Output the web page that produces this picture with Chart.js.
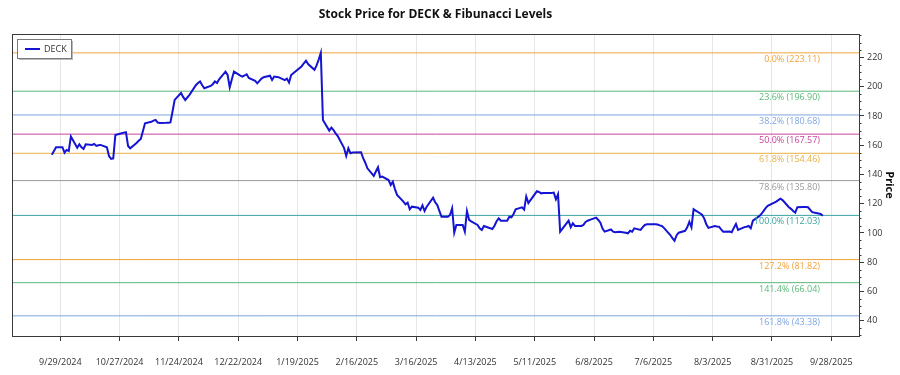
<!DOCTYPE html>
<html>
<head>
<meta charset="utf-8">
<script src="https://cdn.jsdelivr.net/npm/chart.js@4.4.0/dist/chart.umd.min.js"></script>
<style>
  html, body { margin: 0; padding: 0; background: #ffffff; }
  #grafico { display: block; }
</style>
</head>
<body>
<canvas id="grafico" width="900" height="375"></canvas>
<script>
const titulo = "Stock Price for DECK & Fibunacci Levels";
const ticker = "DECK";

const datas = [
    "2024-09-25", "2024-09-26", "2024-09-27", "2024-09-30", "2024-10-01", "2024-10-02", "2024-10-03", "2024-10-04",
    "2024-10-07", "2024-10-08", "2024-10-09", "2024-10-10", "2024-10-11", "2024-10-14", "2024-10-15", "2024-10-16",
    "2024-10-17", "2024-10-18", "2024-10-21", "2024-10-22", "2024-10-23", "2024-10-24", "2024-10-25", "2024-10-28",
    "2024-10-29", "2024-10-30", "2024-10-31", "2024-11-01", "2024-11-04", "2024-11-05", "2024-11-06", "2024-11-07",
    "2024-11-08", "2024-11-11", "2024-11-12", "2024-11-13", "2024-11-14", "2024-11-15", "2024-11-18", "2024-11-19",
    "2024-11-20", "2024-11-21", "2024-11-22", "2024-11-25", "2024-11-26", "2024-11-27", "2024-11-29", "2024-12-02",
    "2024-12-03", "2024-12-04", "2024-12-05", "2024-12-06", "2024-12-09", "2024-12-10", "2024-12-11", "2024-12-12",
    "2024-12-13", "2024-12-16", "2024-12-17", "2024-12-18", "2024-12-19", "2024-12-20", "2024-12-23", "2024-12-24",
    "2024-12-26", "2024-12-27", "2024-12-30", "2024-12-31", "2025-01-02", "2025-01-03", "2025-01-06", "2025-01-07",
    "2025-01-08", "2025-01-10", "2025-01-13", "2025-01-14", "2025-01-15", "2025-01-16", "2025-01-17", "2025-01-21",
    "2025-01-22", "2025-01-23", "2025-01-24", "2025-01-27", "2025-01-28", "2025-01-29", "2025-01-30", "2025-01-31",
    "2025-02-03", "2025-02-04", "2025-02-05", "2025-02-06", "2025-02-07", "2025-02-10", "2025-02-11", "2025-02-12",
    "2025-02-13", "2025-02-14", "2025-02-18", "2025-02-19", "2025-02-20", "2025-02-21", "2025-02-24", "2025-02-25",
    "2025-02-26", "2025-02-27", "2025-02-28", "2025-03-03", "2025-03-04", "2025-03-05", "2025-03-06", "2025-03-07",
    "2025-03-10", "2025-03-11", "2025-03-12", "2025-03-13", "2025-03-14", "2025-03-17", "2025-03-18", "2025-03-19",
    "2025-03-20", "2025-03-21", "2025-03-24", "2025-03-25", "2025-03-26", "2025-03-27", "2025-03-28", "2025-03-31",
    "2025-04-01", "2025-04-02", "2025-04-03", "2025-04-04", "2025-04-07", "2025-04-08", "2025-04-09", "2025-04-10",
    "2025-04-11", "2025-04-14", "2025-04-15", "2025-04-16", "2025-04-17", "2025-04-21", "2025-04-22", "2025-04-23",
    "2025-04-24", "2025-04-25", "2025-04-28", "2025-04-29", "2025-04-30", "2025-05-01", "2025-05-02", "2025-05-05",
    "2025-05-06", "2025-05-07", "2025-05-08", "2025-05-09", "2025-05-12", "2025-05-13", "2025-05-14", "2025-05-15",
    "2025-05-16", "2025-05-19", "2025-05-20", "2025-05-21", "2025-05-22", "2025-05-23", "2025-05-27", "2025-05-28",
    "2025-05-29", "2025-05-30", "2025-06-02", "2025-06-03", "2025-06-04", "2025-06-05", "2025-06-06", "2025-06-09",
    "2025-06-10", "2025-06-11", "2025-06-12", "2025-06-13", "2025-06-16", "2025-06-17", "2025-06-18", "2025-06-20",
    "2025-06-23", "2025-06-24", "2025-06-25", "2025-06-26", "2025-06-27", "2025-06-30", "2025-07-01", "2025-07-02",
    "2025-07-03", "2025-07-07", "2025-07-08", "2025-07-09", "2025-07-10", "2025-07-11", "2025-07-14", "2025-07-15",
    "2025-07-16", "2025-07-17", "2025-07-18", "2025-07-21", "2025-07-22", "2025-07-23", "2025-07-24", "2025-07-25",
    "2025-07-28", "2025-07-29", "2025-07-30", "2025-07-31", "2025-08-01", "2025-08-04", "2025-08-05", "2025-08-06",
    "2025-08-07", "2025-08-08", "2025-08-11", "2025-08-12", "2025-08-13", "2025-08-14", "2025-08-15", "2025-08-18",
    "2025-08-19", "2025-08-20", "2025-08-21", "2025-08-22", "2025-08-25", "2025-08-26", "2025-08-27", "2025-08-28",
    "2025-08-29", "2025-09-02", "2025-09-03", "2025-09-04", "2025-09-05", "2025-09-08", "2025-09-09", "2025-09-10",
    "2025-09-11", "2025-09-12", "2025-09-15", "2025-09-16", "2025-09-17", "2025-09-18", "2025-09-19", "2025-09-22",
    "2025-09-23", "2025-09-24"
];

const fechamentos = [
    153.5, 156.0, 158.6, 158.6, 154.9, 156.8, 156.1, 165.9,
    158.3, 160.6, 158.6, 157.4, 160.6, 160.2, 160.9, 159.5,
    160.0, 160.2, 158.6, 152.6, 150.6, 151.0, 167.0, 168.2,
    168.6, 168.9, 159.5, 157.9, 161.5, 163.0, 164.2, 169.5,
    175.0, 176.0, 176.8, 177.3, 175.5, 175.2, 175.3, 175.4,
    175.6, 183.0, 191.0, 195.7, 193.0, 190.9, 194.4, 201.0,
    202.5, 203.5, 201.0, 198.9, 200.5, 201.7, 203.6, 202.5,
    205.0, 210.3, 208.0, 199.6, 205.0, 210.3, 207.5, 206.9,
    208.5, 206.0, 204.0, 202.3, 205.5, 206.5, 207.5, 204.6,
    206.9, 206.5, 204.5, 205.5, 202.8, 208.0, 209.2, 214.0,
    216.0, 217.8, 215.5, 211.5, 214.5, 218.5, 223.11, 177.3,
    170.0, 172.0, 170.4, 168.0, 166.3, 158.0, 152.6, 157.9,
    154.5, 155.0, 155.2, 151.1, 148.0, 144.2, 139.0, 142.0,
    144.9, 138.1, 138.5, 136.2, 132.8, 135.1, 130.0, 126.0,
    121.4, 119.6, 120.7, 116.2, 118.0, 117.3, 115.7, 118.9,
    115.0, 118.0, 124.1, 121.0, 119.1, 115.0, 111.1, 111.1,
    112.3, 116.9, 100.2, 105.5, 105.5, 100.9, 115.0, 109.0,
    108.0, 105.5, 103.2, 102.1, 104.8, 102.7, 105.0, 108.0,
    110.0, 108.4, 108.4, 111.1, 110.7, 113.0, 116.2, 117.5,
    116.0, 125.0, 120.5, 122.5, 128.5, 128.0, 127.1, 127.3,
    127.3, 127.4, 127.6, 123.0, 126.5, 100.9, 108.4, 103.9,
    106.6, 104.8, 104.8, 105.5, 107.5, 108.4, 109.0, 110.5,
    108.9, 107.0, 103.0, 100.9, 102.4, 100.9, 100.5, 100.9,
    100.2, 99.8, 101.5, 100.9, 103.2, 102.1, 104.0, 105.5,
    105.9, 106.0, 105.8, 105.2, 104.8, 103.5, 98.6, 96.5,
    94.7, 98.5, 100.2, 101.5, 103.9, 107.7, 103.9, 116.2,
    113.5, 112.5, 110.0, 106.0, 103.5, 104.8, 104.5, 104.3,
    102.5, 100.9, 101.0, 100.5, 103.5, 106.2, 102.1, 104.0,
    104.3, 104.8, 103.2, 108.4, 111.5, 113.0, 115.0, 117.0,
    118.5, 121.5, 122.5, 123.5, 122.5, 117.6, 116.5, 115.0,
    113.9, 117.6, 117.8, 117.8, 117.6, 116.0, 114.2, 113.3,
    113.0, 111.8
];

const fibRotulos = ["0.0%", "23.6%", "38.2%", "50.0%", "61.8%", "78.6%", "100.0%", "127.2%", "141.4%", "161.8%"];
const fibValores = [223.11, 196.90, 180.68, 167.57, 154.46, 135.80, 112.03, 81.82, 66.04, 43.38];
const fibCores = ["#f2a23c", "#5cb87a", "#7ea6e0", "#c8449c", "#e9b044", "#9a9a9a", "#3aa3a0", "#f2a23c", "#5cb87a", "#7ea6e0"];

const ticksX = ["2024-09-29", "2024-10-27", "2024-11-24", "2024-12-22", "2025-01-19", "2025-02-16", "2025-03-16",
    "2025-04-13", "2025-05-11", "2025-06-08", "2025-07-06", "2025-08-03", "2025-08-31", "2025-09-28"];
const ticksY = [40, 60, 80, 100, 120, 140, 160, 180, 200, 220];

const fonte = "'Open Sans', 'Noto Sans', sans-serif";

function paraDia(texto) {
    const [a, m, d] = texto.split("-").map(Number);
    return Date.UTC(a, m - 1, d) / 86400000;
}

function formatarDia(valor) {
    const dt = new Date(Math.round(valor) * 86400000);
    return `${dt.getUTCMonth() + 1}/${dt.getUTCDate()}/${dt.getUTCFullYear()}`;
}

const diaBase = paraDia("2024-09-29");
const xMin = diaBase - 22.8;
const xMax = diaBase + 377.1;

// rotulos das linhas de Fibonacci
const pluginRotulos = {
    id: "rotulosFib",
    afterDatasetsDraw(chart) {
        const { ctx, chartArea } = chart;
        const y = chart.scales.y;
        ctx.save();
        ctx.font = `9px ${fonte}`;
        ctx.textAlign = "right";
        ctx.textBaseline = "top";
        fibValores.forEach((valor, i) => {
            const py = y.getPixelForValue(valor);
            ctx.fillStyle = fibCores[i];
            ctx.fillText(`${fibRotulos[i]} (${valor.toFixed(2)})`, chartArea.right - 39, py + 2);
        });
        ctx.restore();
    }
};

const pluginMoldura = {
    id: "moldura",
    afterDraw(chart) {
        const { ctx, chartArea } = chart;
        const y = chart.scales.y;
        ctx.save();
        ctx.strokeStyle = "#3a3a3a";
        ctx.lineWidth = 1;
        ctx.strokeRect(Math.round(chartArea.left) + 0.5, Math.round(chartArea.top) + 0.5,
            Math.round(chartArea.right - chartArea.left), Math.round(chartArea.bottom - chartArea.top));

        // marcas menores do eixo de preco
        for (let v = Math.ceil(y.min / 5) * 5; v <= y.max; v += 5) {
            if (v % 20 === 0) continue;
            const py = Math.round(y.getPixelForValue(v)) + 0.5;
            ctx.beginPath();
            ctx.moveTo(chartArea.right, py);
            ctx.lineTo(chartArea.right + 2.5, py);
            ctx.stroke();
        }

        // titulo
        ctx.fillStyle = "#111";
        ctx.font = `bold 12px ${fonte}`;
        ctx.textAlign = "center";
        ctx.textBaseline = "middle";
        ctx.fillText(titulo, (chartArea.left + chartArea.right) / 2, 14.5);

        // legenda
        const lx = chartArea.left + 5, ly = chartArea.top + 5;
        ctx.fillStyle = "#b8b8b8";
        ctx.fillRect(lx + 2, ly + 2, 54, 19);
        ctx.fillStyle = "#ffffff";
        ctx.fillRect(lx, ly, 54, 19);
        ctx.strokeStyle = "#7a7a7a";
        ctx.strokeRect(lx + 0.5, ly + 0.5, 54, 19);
        ctx.strokeStyle = "#1414d2";
        ctx.lineWidth = 2;
        ctx.beginPath();
        ctx.moveTo(lx + 8, ly + 10);
        ctx.lineTo(lx + 23, ly + 10);
        ctx.stroke();
        ctx.fillStyle = "#333";
        ctx.font = `9px ${fonte}`;
        ctx.textAlign = "left";
        ctx.fillText(ticker, lx + 27, ly + 10);
        ctx.restore();
    }
};

const conjuntoPreco = {
    label: ticker,
    data: datas.map((d, i) => ({ x: paraDia(d), y: fechamentos[i] })),
    borderColor: "#1414d2",
    borderWidth: 2,
    pointRadius: 0,
    tension: 0,
    order: 0
};

const conjuntosFib = fibValores.map((valor, i) => ({
    label: fibRotulos[i],
    data: [{ x: xMin, y: valor }, { x: xMax, y: valor }],
    borderColor: fibCores[i],
    borderWidth: 1,
    pointRadius: 0,
    order: 1
}));

const grafico = new Chart(document.getElementById("grafico"), {
    type: "line",
    data: {
        datasets: [conjuntoPreco, ...conjuntosFib]
    },
    options: {
        responsive: false,
        animation: false,
        layout: { padding: { left: 12, top: 34, right: 0, bottom: 0 } },
        plugins: {
            legend: { display: false },
            title: { display: false },
            tooltip: { enabled: false }
        },
        scales: {
            x: {
                type: "linear",
                min: xMin,
                max: xMax,
                afterBuildTicks: (escala) => {
                    escala.ticks = ticksX.map((t) => ({ value: paraDia(t) }));
                },
                afterFit: (escala) => { escala.height = 39; },
                grid: {
                    color: "#e6e6e6",
                    tickColor: "#3a3a3a",
                    tickLength: 5,
                    drawOnChartArea: true
                },
                border: { color: "#3a3a3a" },
                ticks: {
                    autoSkip: false,
                    maxRotation: 0,
                    padding: 16,
                    color: "#333",
                    font: { family: fonte, size: 9 },
                    callback: (valor) => formatarDia(valor)
                }
            },
            y: {
                position: "right",
                min: 29.6,
                max: 236,
                afterBuildTicks: (escala) => {
                    escala.ticks = ticksY.map((v) => ({ value: v }));
                },
                afterFit: (escala) => { escala.width = 41; },
                grid: {
                    drawOnChartArea: false,
                    tickColor: "#3a3a3a",
                    tickLength: 5
                },
                border: { color: "#3a3a3a" },
                ticks: {
                    padding: 3,
                    color: "#333",
                    font: { family: fonte, size: 9 }
                },
                title: {
                    display: true,
                    text: "Price",
                    color: "#111",
                    font: { family: fonte, size: 11, weight: "bold" },
                    padding: { top: 4, bottom: 0 }
                }
            }
        }
    },
    plugins: [pluginRotulos, pluginMoldura]
});
</script>
</body>
</html>
